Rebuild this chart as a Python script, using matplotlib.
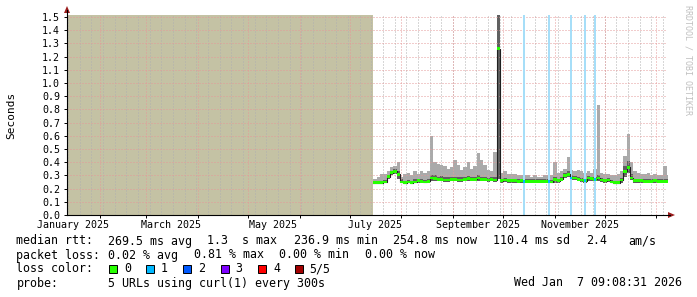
import numpy as np
import pandas as pd
import matplotlib
matplotlib.use("Agg")
import matplotlib.pyplot as plt
from matplotlib.lines import Line2D
from matplotlib.patches import Rectangle, Polygon

W, H = 697, 297
MONO = "DejaVu Sans Mono"

graph_start = pd.Timestamp("2025-01-12 09:08:31")
graph_end = pd.Timestamp("2026-01-07 09:08:31")
first_sample = pd.Timestamp("2025-07-15 06:00")
step_days = 2

# seconds, one value per 2-day step from first_sample
median_rtt = [0.245, 0.245, 0.245, 0.25, 0.29, 0.32, 0.33, 0.31, 0.25, 0.245,
              0.25, 0.245, 0.25, 0.26, 0.255, 0.25, 0.255, 0.28, 0.275, 0.27,
              0.27, 0.265, 0.265, 0.27, 0.27, 0.265, 0.265, 0.27, 0.275, 0.27,
              0.27, 0.28, 0.27, 0.27, 0.265, 0.27, 0.265, 1.26, 0.26, 0.265,
              0.26, 0.26, 0.26, 0.255, 0.26, 0.255, 0.255, 0.255, 0.255, 0.255,
              0.255, 0.255, 0.255, 0.25, 0.27, 0.26, 0.27, 0.30, 0.31, 0.28,
              0.28, 0.27, 0.265, 0.26, 0.28, 0.275, 0.27, 0.28, 0.265, 0.26,
              0.265, 0.25, 0.245, 0.245, 0.265, 0.33, 0.36, 0.28, 0.26, 0.26,
              0.26, 0.255, 0.255, 0.255, 0.26, 0.255, 0.255, 0.255, 0.255]
smoke_low = [0.235, 0.235, 0.235, 0.24, 0.27, 0.30, 0.31, 0.27, 0.24, 0.235,
             0.24, 0.235, 0.24, 0.245, 0.245, 0.24, 0.245, 0.26, 0.26, 0.255,
             0.255, 0.25, 0.25, 0.255, 0.255, 0.25, 0.25, 0.255, 0.26, 0.255,
             0.255, 0.26, 0.255, 0.255, 0.25, 0.255, 0.25, 0.27, 0.245, 0.25,
             0.245, 0.245, 0.245, 0.245, 0.245, 0.245, 0.245, 0.245, 0.245, 0.245,
             0.245, 0.245, 0.245, 0.24, 0.245, 0.245, 0.255, 0.28, 0.29, 0.265,
             0.265, 0.255, 0.25, 0.245, 0.26, 0.26, 0.255, 0.26, 0.25, 0.245,
             0.25, 0.24, 0.235, 0.235, 0.245, 0.29, 0.32, 0.265, 0.245, 0.245,
             0.245, 0.245, 0.245, 0.245, 0.245, 0.245, 0.245, 0.245, 0.245]
smoke_dark = [0.26, 0.26, 0.26, 0.265, 0.30, 0.335, 0.345, 0.33, 0.27, 0.26,
              0.265, 0.26, 0.27, 0.275, 0.27, 0.265, 0.27, 0.30, 0.30, 0.29,
              0.295, 0.29, 0.285, 0.29, 0.29, 0.285, 0.285, 0.29, 0.295, 0.29,
              0.29, 0.30, 0.29, 0.29, 0.28, 0.285, 0.285, 1.52, 0.275, 0.28,
              0.275, 0.275, 0.275, 0.27, 0.27, 0.27, 0.27, 0.27, 0.27, 0.27,
              0.27, 0.27, 0.27, 0.265, 0.29, 0.275, 0.285, 0.32, 0.33, 0.30,
              0.295, 0.29, 0.28, 0.275, 0.295, 0.29, 0.29, 0.30, 0.28, 0.275,
              0.28, 0.265, 0.26, 0.26, 0.28, 0.37, 0.41, 0.31, 0.275, 0.275,
              0.275, 0.27, 0.27, 0.27, 0.275, 0.27, 0.27, 0.27, 0.27]
smoke_top = [0.27, 0.29, 0.31, 0.31, 0.33, 0.36, 0.37, 0.40, 0.29, 0.31,
             0.32, 0.30, 0.33, 0.31, 0.33, 0.32, 0.33, 0.60, 0.40, 0.39,
             0.38, 0.37, 0.35, 0.36, 0.42, 0.38, 0.34, 0.36, 0.40, 0.35,
             0.37, 0.47, 0.42, 0.38, 0.34, 0.33, 0.48, 1.52, 0.32, 0.33,
             0.31, 0.31, 0.31, 0.30, 0.30, 0.30, 0.30, 0.29, 0.30, 0.29,
             0.29, 0.30, 0.30, 0.30, 0.40, 0.32, 0.33, 0.35, 0.44, 0.34,
             0.33, 0.34, 0.33, 0.32, 0.33, 0.32, 0.35, 0.83, 0.32, 0.31,
             0.31, 0.30, 0.30, 0.31, 0.33, 0.45, 0.61, 0.40, 0.33, 0.32,
             0.31, 0.31, 0.32, 0.30, 0.31, 0.30, 0.30, 0.37, 0.30]

loss_times = ["2025-10-13 07:00", "2025-10-28 21:00", "2025-11-10 18:00",
              "2025-11-19 05:00", "2025-11-25 05:00"]
loss_counts = [1, 1, 1, 1, 1]

loss_labels = ["0", "1", "2", "3", "4", "5/5"]
loss_colors = ["#26ff00", "#00b8ff", "#0059ff", "#7e00ff", "#ff0000", "#a10000"]

yticks = [i / 10 for i in range(16)]
label_months = pd.date_range("2025-01-01", periods=6, freq="2MS")

stats_line1 = ["median rtt:", "269.5 ms avg", "1.3  s max", "236.9 ms min",
               "254.8 ms now", "110.4 ms sd", "2.4", "am/s"]
stats_line2 = ["packet loss:", "0.02 % avg", "0.81 % max", "0.00 % min", "0.00 % now"]
probe_text = "5 URLs using curl(1) every 300s"
stamp_text = "Wed Jan  7 09:08:31 2026"


def fx(px):
    return px / W


def fy(py):
    return 1 - py / H


def day(t):
    return (pd.Timestamp(t) - graph_start) / pd.Timedelta(days=1)


fig = plt.figure(figsize=(W / 100, H / 100), dpi=100)
ax = fig.add_axes([fx(67), fy(215), 600 / W, 200 / H])
ax.set_xlim(0, day(graph_end))
ax.set_ylim(0, 1.515)
for s in ax.spines.values():
    s.set_visible(False)

# period without data
ax.axvspan(0, day(first_sample), color="#c4c2a4", lw=0, zorder=1)

xs = day(first_sample) + step_days * np.arange(len(median_rtt) + 1)
ext = lambda a: np.append(a, a[-1])
med = np.array(median_rtt)

ax.fill_between(xs, ext(smoke_low), ext(smoke_top), step="post", color="#aaaaaa", lw=0, zorder=2)
ax.fill_between(xs, ext(smoke_low), ext(smoke_dark), step="post", color="#606060", lw=0, zorder=2.1)

# grid
for w in pd.date_range(graph_start.normalize(), graph_end, freq="W-MON"):
    ax.axvline(day(w), color="#b0b0b0", lw=0.72, ls=(0, (1, 2)), zorder=3)
month_starts = pd.date_range("2025-02-01", graph_end, freq="MS")
for m in month_starts:
    ax.axvline(day(m), color="#e59a9a", lw=0.72, ls=(0, (1, 2)), zorder=3.1)
for v in yticks[1:]:
    ax.axhline(v, color="#e59a9a", lw=0.72, ls=(0, (1, 2)), zorder=3.1)

# loss background bars
for t, c in zip(loss_times, loss_counts):
    x = day(t)
    ax.axvspan(x - 0.6, x + 0.6, color="#a6def8", lw=0, zorder=3.5)

# median line with loss colour band
ax.step(xs, ext(med), where="post", color="#202020", lw=0.8, zorder=4)
band = 0.011
ax.fill_between(xs, ext(med - band), ext(med + band), step="post",
                color=loss_colors[0], lw=0, zorder=4.5)
for t, c in zip(loss_times, loss_counts):
    x = day(t)
    i = int((x - xs[0]) // step_days)
    ax.fill_between([x - 0.6, x + 0.6], med[i] - band, med[i] + band,
                    color=loss_colors[c], lw=0, zorder=4.6)

# ticks
ax.set_yticks(yticks)
ax.set_yticklabels([f"{v:.1f}" for v in yticks], fontfamily=MONO, fontsize=7.2)
ax.tick_params(axis="y", length=2, width=0.7, pad=3, direction="out", color="black")
ax.set_xticks([day(m + pd.Timedelta(days=15)) for m in label_months])
ax.set_xticklabels([m.strftime("%B %Y") for m in label_months], fontfamily=MONO, fontsize=7.2)
ax.set_xticks([day(m) for m in month_starts], minor=True)
ax.tick_params(axis="x", which="major", length=0, pad=3.5)
ax.tick_params(axis="x", which="minor", length=2, width=0.7, direction="out", color="black")

# axes lines and arrows
fig.add_artist(Line2D([fx(67), fx(67)], [fy(215), fy(10)], color="black", lw=0.8))
fig.add_artist(Line2D([fx(67), fx(670)], [fy(215), fy(215)], color="black", lw=0.8))
fig.add_artist(Polygon([[fx(67), fy(6)], [fx(64), fy(13)], [fx(70), fy(13)]],
                       closed=True, color="#9b1c1c", lw=0))
fig.add_artist(Polygon([[fx(675), fy(215)], [fx(668), fy(212)], [fx(668), fy(218)]],
                       closed=True, color="#9b1c1c", lw=0))

fig.text(fx(11), fy(115), "Seconds", rotation=90, ha="center", va="center",
         fontfamily=MONO, fontsize=8)
fig.text(fx(688), fy(60), "RRDTOOL / TOBI OETIKER", rotation=270, ha="center", va="center",
         fontfamily=MONO, fontsize=6, color="#c0c0c0")

# legend
line1_x = [16.5, 107.5, 207, 293.5, 393.3, 493.3, 585.7, 628.3]
for s, x in zip(stats_line1, line1_x):
    fig.text(fx(x), fy(241), s, ha="left", va="center", fontfamily=MONO, fontsize=8.4)
line2_x = [16.5, 107.5, 194, 279, 365]
for s, x in zip(stats_line2, line2_x):
    fig.text(fx(x), fy(255), s, ha="left", va="center", fontfamily=MONO, fontsize=8.4)
fig.text(fx(16.5), fy(269), "loss color:", ha="left", va="center", fontfamily=MONO, fontsize=8.4)
box_x = [109, 146, 183, 220.5, 258, 294.6]
for lab, col, x in zip(loss_labels, loss_colors, box_x):
    fig.add_artist(Rectangle((fx(x), fy(273)), 8 / W, 8 / H, facecolor=col,
                             edgecolor="black", lw=0.7, transform=fig.transFigure))
    fig.text(fx(x + 15), fy(269), lab, ha="left", va="center", fontfamily=MONO, fontsize=8.4)
fig.text(fx(16.5), fy(283), "probe:", ha="left", va="center", fontfamily=MONO, fontsize=8.4)
fig.text(fx(107.5), fy(283), probe_text, ha="left", va="center", fontfamily=MONO, fontsize=8.4)
fig.text(fx(682), fy(283), stamp_text, ha="right", va="center", fontfamily=MONO, fontsize=8.4)

fig.savefig("out.png", dpi=100)
